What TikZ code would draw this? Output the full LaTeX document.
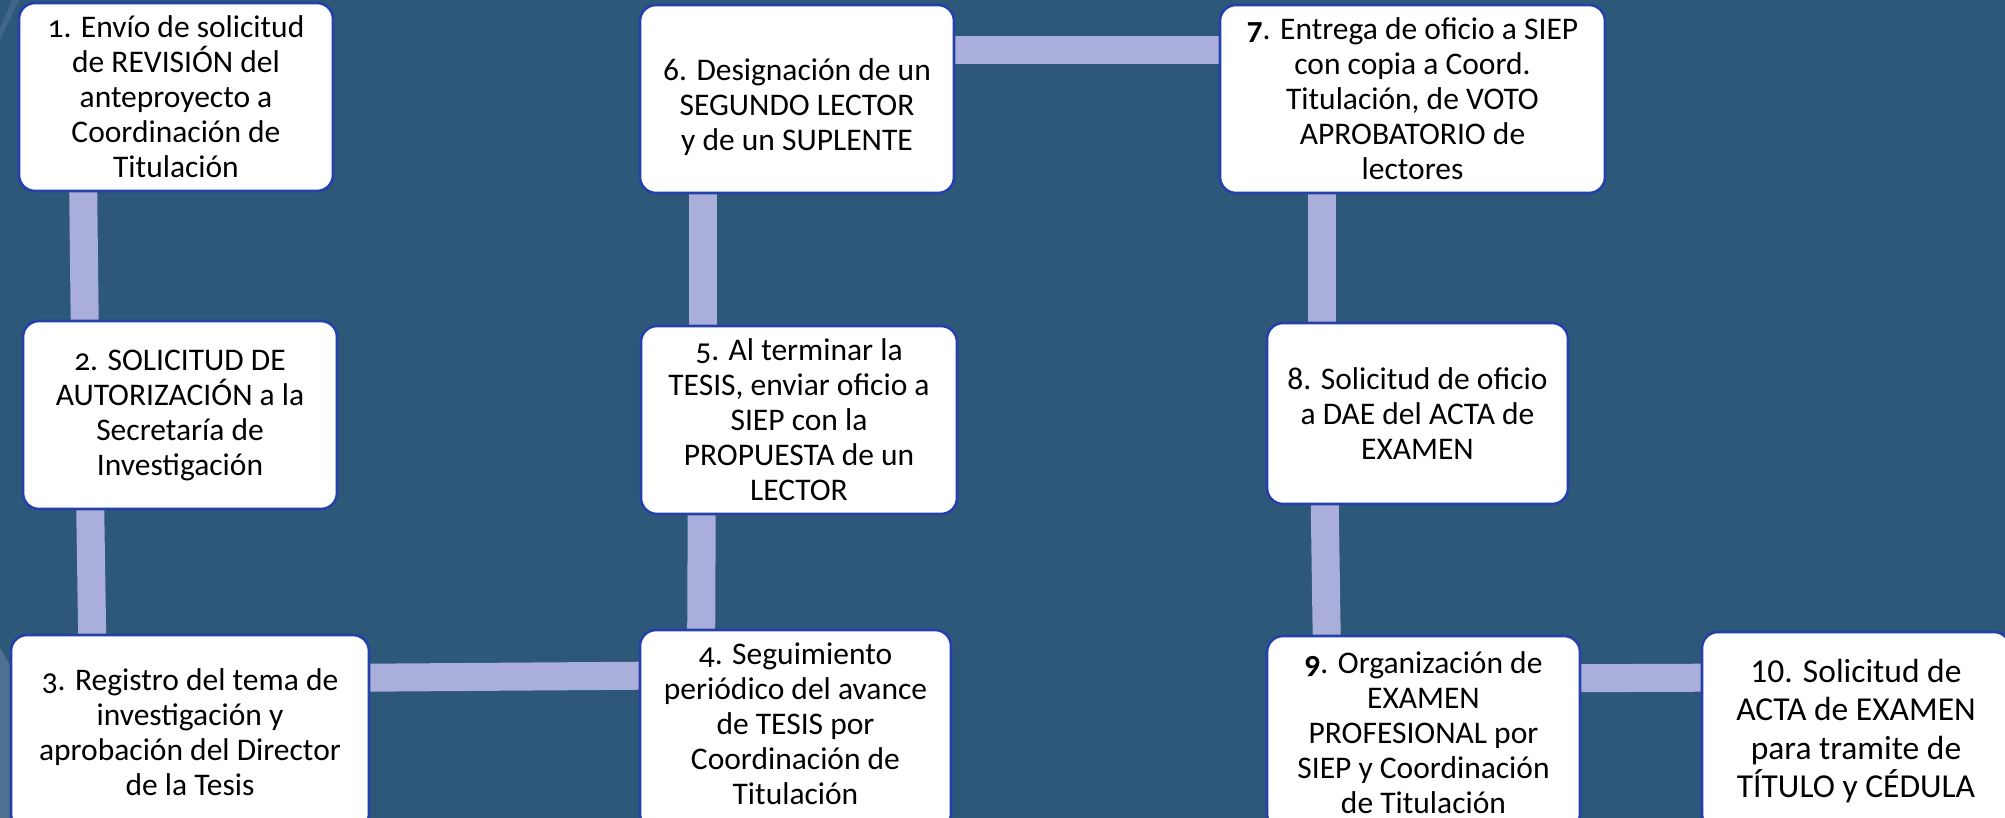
\documentclass[tikz,border=0pt]{standalone}
\usepackage{fontspec}
\setmainfont{Carlito}
\usetikzlibrary{calc,backgrounds}
\definecolor{bgblue}{RGB}{46,88,122}
\definecolor{connlav}{RGB}{169,174,218}
\definecolor{boxborder}{RGB}{36,64,170}
\definecolor{stripe}{RGB}{64,102,136}
\definecolor{wedge}{RGB}{80,113,143}
\newcommand{\osn}[1]{{\addfontfeatures{Numbers=OldStyle}#1}}
\newcommand{\shiftlines}[2]{\raisebox{#1}[\height][\depth]{\begin{tabular}{@{}c@{}}#2\end{tabular}}}
\tikzset{
  stepbox/.style={draw=boxborder, line width=1.3pt, fill=white, rounded corners=8pt,
    align=center, inner sep=0pt, text=black,
    font=\fontsize{15.75pt}{17.5pt}\selectfont},
  conn/.style={draw=connlav, line width=14pt, line cap=butt},
}
\begin{document}
\begin{tikzpicture}[x=0.5pt,y=-0.5pt]
\useasboundingbox (0,0) rectangle (2005,818);
\clip (0,0) rectangle (2005,818);
\begin{pgfonlayer}{background}
\fill[bgblue] (0,0) rectangle (2005,818);
\fill[stripe] (12,0) -- (19,0) -- (0,40) -- (0,28) -- cycle;
\fill[wedge] (0,648) -- (30,700) -- (30,818) -- (0,818) -- cycle;
\end{pgfonlayer}

\node[stepbox, minimum width=157pt, minimum height=94pt] (b1) at (176,97)
  {\osn{1}. Envío de solicitud\\ de REVISIÓN del\\ anteproyecto a\\ Coordinación de\\ Titulación};
\node[stepbox, minimum width=157pt, minimum height=94pt] (b2) at (180,415)
  {\osn{2}. SOLICITUD DE\\ AUTORIZACIÓN a la\\ Secretaría de\\ Investigación};
\node[stepbox, minimum width=179pt, minimum height=97.5pt] (b3) at (190,732.5)
  {\osn{3}. Registro del tema de\\ investigación y\\ aprobación del Director\\ de la Tesis};
\node[stepbox, minimum width=155.5pt, minimum height=100pt] (b4) at (795.5,730)
  {\shiftlines{1.5pt}{\osn{4}. Seguimiento\\ periódico del avance\\ de TESIS por\\ Coordinación de\\ Titulación}};
\node[stepbox, minimum width=158pt, minimum height=94pt] (b5) at (799,420)
  {\osn{5}. Al terminar la\\ TESIS, enviar oficio a\\ SIEP con la\\ PROPUESTA de un\\ LECTOR};
\node[stepbox, minimum width=157pt, minimum height=94pt] (b6) at (797,99)
  {\shiftlines{-5pt}{6. Designación de un\\ SEGUNDO LECTOR\\ y de un SUPLENTE}};
\node[stepbox, minimum width=192.5pt, minimum height=94pt] (b7) at (1412.5,99)
  {\textbf{\osn{7}}. Entrega de oficio a SIEP\\ con copia a Coord.\\ Titulación, de VOTO\\ APROBATORIO de\\ lectores};
\node[stepbox, minimum width=150.5pt, minimum height=90.5pt] (b8) at (1417.5,413.5)
  {8. Solicitud de oficio\\ a DAE del ACTA de\\ EXAMEN};
\node[stepbox, minimum width=156.5pt, minimum height=97pt] (b9) at (1423.5,733)
  {\textbf{\osn{9}}. Organización de\\ EXAMEN\\ PROFESIONAL por\\ SIEP y Coordinación\\ de Titulación};
\node[stepbox, minimum width=154pt, minimum height=99pt,
  font=\fontsize{16.75pt}{19.25pt}\selectfont] (b10) at (1856,731)
  {10. Solicitud de\\ ACTA de EXAMEN\\ para tramite de\\ TÍTULO y CÉDULA};

\begin{pgfonlayer}{background}
\draw[conn] ($(b1.south west)+(65.5,-3)$) -- ($(b2.north west)+(63,3)$);
\draw[conn] ($(b2.south west)+(68.5,-3)$) -- ($(b3.north west)+(82.5,3)$);
\draw[conn] ($(b3.north east)+(-3,44)$) -- ($(b4.north west)+(3,47)$);
\draw[conn] ($(b4.north west)+(62.5,3)$) -- ($(b5.south west)+(62,-3)$);
\draw[conn] ($(b5.north west)+(63,3)$) -- ($(b6.south west)+(64,-3)$);
\draw[conn] ($(b6.north east)+(-3,46)$) -- ($(b7.north west)+(3,46)$);
\draw[conn] ($(b7.south west)+(103,-3)$) -- ($(b8.north west)+(56,3)$);
\draw[conn] ($(b8.south west)+(59,-3)$) -- ($(b9.north west)+(61,3)$);
\draw[conn] ($(b9.north east)+(-3,43.5)$) -- ($(b10.north west)+(3,47)$);
\end{pgfonlayer}
\end{tikzpicture}
\end{document}
